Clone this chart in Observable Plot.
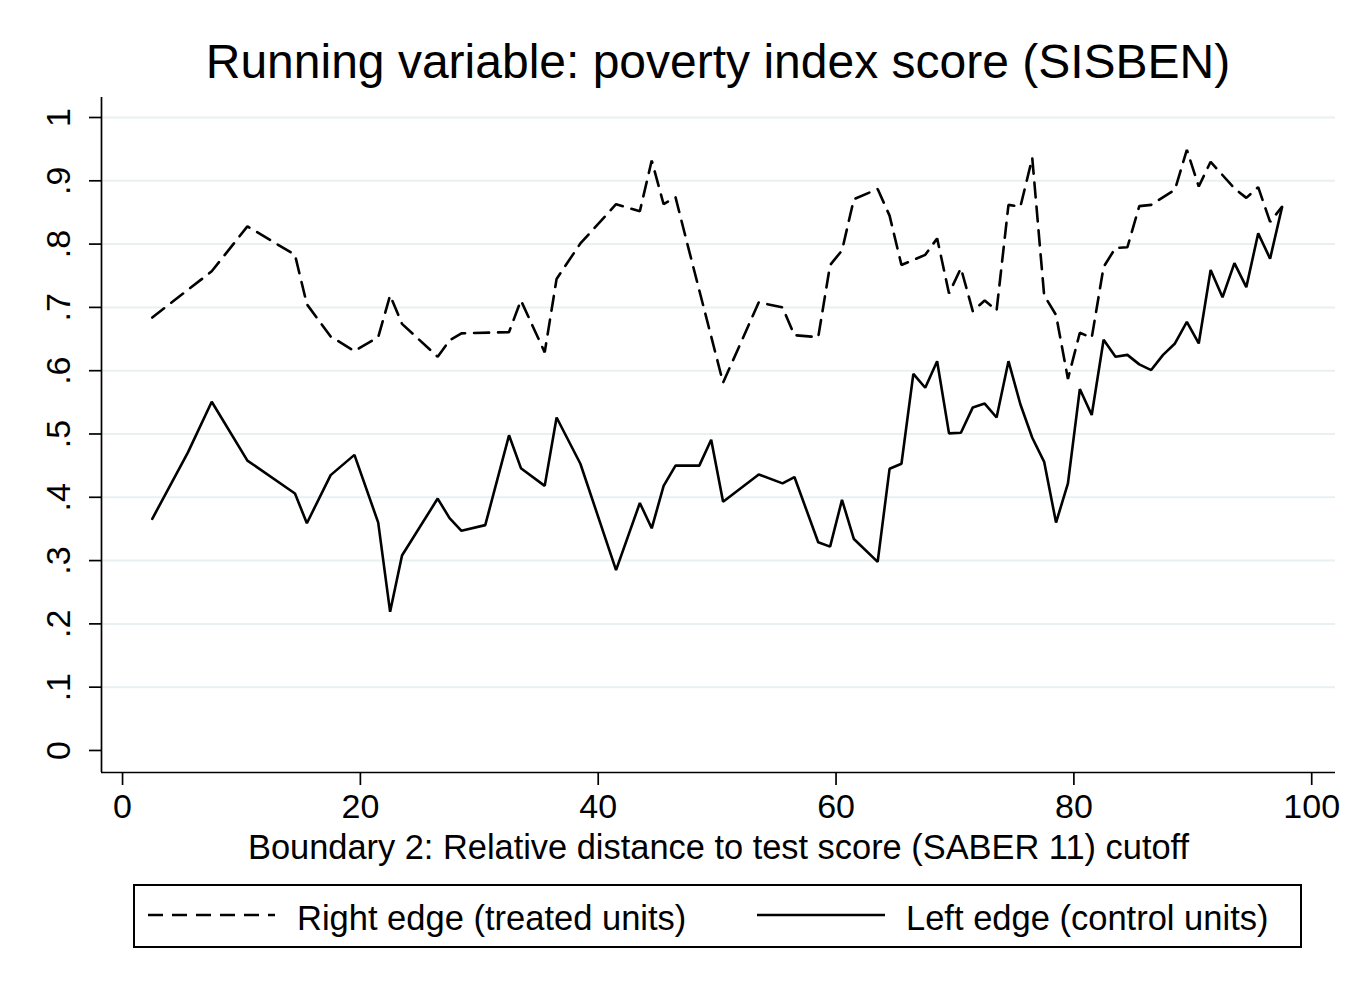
<!DOCTYPE html>
<html>
<head>
<meta charset="utf-8">
<script src="https://cdn.jsdelivr.net/npm/d3@7"></script>
<script src="https://cdn.jsdelivr.net/npm/@observablehq/plot@0.6"></script>
<style>
  html, body { margin: 0; padding: 0; background: #fff; }
  #wrap { position: relative; width: 1370px; height: 996px; font-family: "Liberation Sans", Arial, Helvetica, sans-serif; color: #000; }
  #title { position: absolute; left: 118px; width: 1200px; top: 38px; font-size: 48px; line-height: 48px; text-align: center; white-space: nowrap; }
  #plot { position: absolute; left: 0; top: 90px; }
  #legend { position: absolute; left: 133px; top: 884px; }
</style>
</head>
<body>
<div id="wrap">
  <div id="title">Running variable: poverty index score (SISBEN)</div>
  <div id="plot"></div>
  <div id="legend"></div>
</div>
<script>
// Right edge (treated units) – dashed
const rightX = [2.5, 7.5, 10.5, 14.5, 15.5, 17.5, 19.5, 21.5, 22.5, 23.5, 26.5, 27.5, 28.5, 32.5, 33.5, 35.5, 36.5, 38.5, 41.5, 43.5, 44.5, 45.5, 46.5, 47.5, 50.5, 53.5, 55.5, 56.5, 58.5, 59.5, 60.5, 61.5, 63.5, 64.5, 65.5, 67.5, 68.5, 69.5, 70.5, 71.5, 72.5, 73.5, 74.5, 75.5, 76.5, 77.5, 78.5, 79.5, 80.5, 81.5, 82.5, 83.5, 84.5, 85.5, 86.5, 88.5, 89.5, 90.5, 91.5, 93.5, 94.5, 95.5, 96.5, 97.5];
const rightY = [0.684, 0.757, 0.828, 0.783, 0.705, 0.654, 0.631, 0.653, 0.719, 0.674, 0.622, 0.648, 0.659, 0.661, 0.711, 0.629, 0.745, 0.801, 0.863, 0.852, 0.932, 0.863, 0.874, 0.800, 0.581, 0.708, 0.700, 0.656, 0.653, 0.767, 0.790, 0.871, 0.887, 0.845, 0.767, 0.783, 0.809, 0.722, 0.762, 0.694, 0.711, 0.695, 0.862, 0.859, 0.936, 0.719, 0.688, 0.587, 0.660, 0.652, 0.764, 0.794, 0.795, 0.860, 0.862, 0.886, 0.949, 0.891, 0.930, 0.888, 0.873, 0.890, 0.835, 0.859];

// Left edge (control units) – solid
const leftX = [2.5, 5.5, 7.5, 10.5, 14.5, 15.5, 17.5, 19.5, 21.5, 22.5, 23.5, 26.5, 27.5, 28.5, 30.5, 32.5, 33.5, 35.5, 36.5, 38.5, 41.5, 43.5, 44.5, 45.5, 46.5, 48.5, 49.5, 50.5, 53.5, 55.5, 56.5, 58.5, 59.5, 60.5, 61.5, 63.5, 64.5, 65.5, 66.5, 67.5, 68.5, 69.5, 70.5, 71.5, 72.5, 73.5, 74.5, 75.5, 76.5, 77.5, 78.5, 79.5, 80.5, 81.5, 82.5, 83.5, 84.5, 85.5, 86.5, 87.5, 88.5, 89.5, 90.5, 91.5, 92.5, 93.5, 94.5, 95.5, 96.5, 97.5];
const leftY = [0.366, 0.471, 0.551, 0.458, 0.406, 0.359, 0.435, 0.467, 0.360, 0.219, 0.308, 0.398, 0.367, 0.347, 0.356, 0.498, 0.446, 0.418, 0.526, 0.453, 0.285, 0.391, 0.351, 0.418, 0.450, 0.450, 0.491, 0.393, 0.436, 0.422, 0.432, 0.329, 0.322, 0.396, 0.334, 0.298, 0.445, 0.453, 0.595, 0.573, 0.615, 0.501, 0.502, 0.542, 0.548, 0.526, 0.615, 0.547, 0.494, 0.456, 0.360, 0.422, 0.571, 0.530, 0.649, 0.622, 0.625, 0.610, 0.601, 0.625, 0.643, 0.677, 0.643, 0.759, 0.716, 0.770, 0.732, 0.817, 0.777, 0.858];

const xTicks = [0, 20, 40, 60, 80, 100];
const xTickLabels = ["0", "20", "40", "60", "80", "100"];
const yTicks = [0, 0.1, 0.2, 0.3, 0.4, 0.5, 0.6, 0.7, 0.8, 0.9, 1];
const yTickLabels = ["0", ".1", ".2", ".3", ".4", ".5", ".6", ".7", ".8", ".9", "1"];
const gridTicks = [0.1, 0.2, 0.3, 0.4, 0.5, 0.6, 0.7, 0.8, 0.9, 1];

const title = "Running variable: poverty index score (SISBEN)";
const xLabel = "Boundary 2: Relative distance to test score (SABER 11) cutoff";
const seriesNames = ["Right edge (treated units)", "Left edge (control units)"];

const right = rightX.map((x, i) => ({x, y: rightY[i]}));
const left = leftX.map((x, i) => ({x, y: leftY[i]}));

const xDomain = [-1.77, 102.0];
const yDomain = [-0.0348, 1.0316];
const font = '"Liberation Sans", Arial, Helvetica, sans-serif';

const chart = Plot.plot({
  width: 1370,
  height: 790,
  marginLeft: 101,
  marginRight: 35,
  marginTop: 7,
  marginBottom: 108,
  style: {fontFamily: font, color: "#000", background: "#fff", overflow: "visible"},
  x: {domain: xDomain},
  y: {domain: yDomain},
  marks: [
    Plot.ruleY(gridTicks, {stroke: "#e9f0f2", strokeWidth: 2}),
    Plot.line(right, {x: "x", y: "y", stroke: "#000", strokeWidth: 2.6, strokeDasharray: "15,9", strokeLinejoin: "miter"}),
    Plot.line(left, {x: "x", y: "y", stroke: "#000", strokeWidth: 2.6, strokeLinejoin: "miter"}),
    Plot.ruleX([xDomain[0]], {stroke: "#000", strokeWidth: 1.7}),
    Plot.ruleY([yDomain[0]], {stroke: "#000", strokeWidth: 1.7}),
    Plot.axisY({ticks: yTicks, tickSize: 12, tickFormat: () => "", label: null, strokeWidth: 1.7}),
    Plot.text(yTicks, {y: d => d, text: (d, i) => yTickLabels[i], frameAnchor: "left", dx: -42, rotate: -90, fontSize: 34, textAnchor: "middle", lineAnchor: "middle"}),
    Plot.axisX({ticks: xTicks, tickSize: 13, tickPadding: 8, fontSize: 34, label: null, tickFormat: d => xTickLabels[xTicks.indexOf(d)], strokeWidth: 1.7}),
    Plot.text([xLabel], {frameAnchor: "bottom", dy: 75, fontSize: 34.4, lineAnchor: "middle", textAnchor: "middle"})
  ]
});
document.getElementById("plot").appendChild(chart);

// Legend (below the chart)
const legend = d3.select("#legend").append("svg")
  .attr("width", 1170).attr("height", 64)
  .style("font-family", font);
legend.append("rect").attr("x", 1).attr("y", 1).attr("width", 1167).attr("height", 62)
  .attr("fill", "none").attr("stroke", "#000").attr("stroke-width", 2);
const items = [
  {name: seriesNames[0], dash: "15,9", x0: 15, x1: 142, tx: 164},
  {name: seriesNames[1], dash: null, x0: 624, x1: 752, tx: 773}
];
items.forEach(it => {
  legend.append("line").attr("x1", it.x0).attr("x2", it.x1).attr("y1", 31).attr("y2", 31)
    .attr("stroke", "#000").attr("stroke-width", 2.6).attr("stroke-dasharray", it.dash);
  legend.append("text").attr("x", it.tx).attr("y", 46).attr("font-size", 34.5).text(it.name);
});
</script>
</body>
</html>
